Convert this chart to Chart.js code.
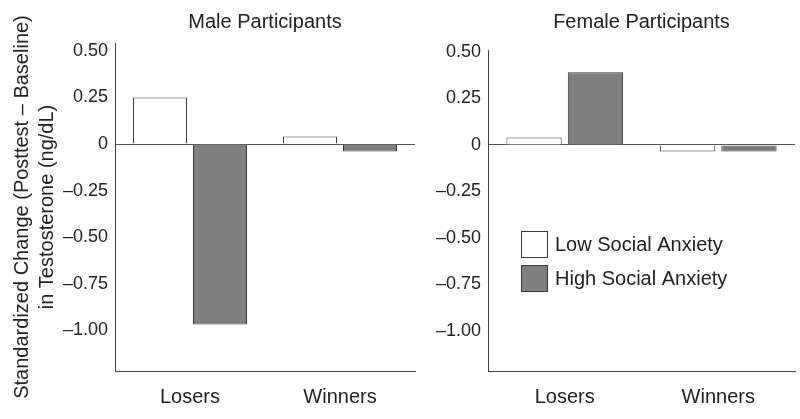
<!DOCTYPE html>
<html lang="en">
<head>
<meta charset="UTF-8">
<title>Testosterone change by social anxiety</title>
<style>
  html, body { margin: 0; padding: 0; background: #fff; }
  #wrap { position: relative; width: 800px; height: 419px; }
  .panel { position: absolute; top: 0; height: 419px; }
  #male { left: 0; width: 420px; }
  #female { left: 420px; width: 380px; }
</style>
</head>
<body>
<div id="wrap">
  <div class="panel" id="male"><canvas id="maleChart"></canvas></div>
  <div class="panel" id="female"><canvas id="femaleChart"></canvas></div>
</div>

<script src="https://cdn.jsdelivr.net/npm/chart.js"></script>

<script>
  // data
  const groups = ['Losers', 'Winners'];
  const seriesNames = ['Low Social Anxiety', 'High Social Anxiety'];
  const maleLow = [0.25, 0.04];
  const maleHigh = [-0.97, -0.04];
  const femaleLow = [0.04, -0.035];
  const femaleHigh = [0.39, -0.035];
  const tickValues = [0.5, 0.25, 0, -0.25, -0.5, -0.75, -1.0];
  const tickLabels = ['0.50', '0.25', '0', '\u20130.25', '\u20130.50', '\u20130.75', '\u20131.00'];

  const FONT = '"Liberation Sans", Arial, sans-serif';
  const TEXT = '#222';
  const LINE = '#444';

  // draws the boxed legend inside the plot
  const boxLegend = {
    id: 'boxLegend',
    afterDraw(chart, args, opts) {
      if (!opts.show) return;
      const ctx = chart.ctx;
      ctx.save();
      chart.data.datasets.forEach((ds, i) => {
        const y = opts.y + i * opts.step;
        ctx.fillStyle = ds.backgroundColor;
        ctx.fillRect(opts.x, y, opts.size, opts.size);
        ctx.strokeStyle = ds.borderColor;
        ctx.lineWidth = 1;
        ctx.strokeRect(opts.x + 0.5, y + 0.5, opts.size - 1, opts.size - 1);
        ctx.fillStyle = TEXT;
        ctx.font = '20px ' + FONT;
        ctx.textBaseline = 'middle';
        ctx.fillText(ds.label, opts.x + opts.size + 7, y + opts.size / 2 + 1);
      });
      ctx.restore();
    }
  };

  function buildChart(canvasId, title, low, high, yMin, yMax, yWidth, yTitle, titleBottom, legend) {
    return new Chart(document.getElementById(canvasId), {
      type: 'bar',
      data: {
        labels: groups,
        datasets: [
          { label: seriesNames[0], data: low, backgroundColor: '#ffffff', borderColor: '#3a3a3a', borderWidth: 1 },
          { label: seriesNames[1], data: high, backgroundColor: '#7f7f7f', borderColor: '#3a3a3a', borderWidth: 1 }
        ]
      },
      options: {
        responsive: true,
        maintainAspectRatio: false,
        animation: false,
        layout: { padding: { left: 0, right: 5, top: 0, bottom: 0 } },
        scales: {
          x: {
            afterFit: scale => { scale.height = 48; },
            grid: { display: false, drawTicks: false },
            border: { display: true, color: LINE, width: 1 },
            ticks: { color: TEXT, font: { family: FONT, size: 20 }, padding: 14 }
          },
          y: {
            min: yMin,
            max: yMax,
            afterBuildTicks: scale => { scale.ticks = tickValues.map(v => ({ value: v })); },
            afterFit: scale => { scale.width = yWidth; },
            grid: {
              drawTicks: false,
              color: c => (c.tick && c.tick.value === 0) ? '#555' : 'rgba(0,0,0,0)'
            },
            border: { display: true, color: LINE, width: 1 },
            ticks: {
              color: TEXT,
              font: { family: FONT, size: 18 },
              padding: 7,
              callback: v => tickLabels[tickValues.indexOf(v)]
            },
            title: {
              display: !!yTitle,
              text: yTitle || '',
              color: TEXT,
              font: { family: FONT, size: 20, lineHeight: 1.25 },
              padding: { top: 10, bottom: 0 }
            }
          }
        },
        plugins: {
          legend: { display: false },
          tooltip: { enabled: false },
          title: {
            display: true,
            text: title,
            fullSize: false,
            color: TEXT,
            font: { family: FONT, size: 20, weight: 'normal', lineHeight: 1.2 },
            padding: { top: 10, bottom: titleBottom }
          },
          boxLegend: legend
        }
      },
      plugins: [boxLegend]
    });
  }

  buildChart('maleChart', 'Male Participants', maleLow, maleHigh, -1.22, 0.543, 115,
    ['Standardized Change (Posttest \u2013 Baseline)', 'in Testosterone (ng/dL)'], 9, { show: false });

  buildChart('femaleChart', 'Female Participants', femaleLow, femaleHigh, -1.215, 0.51, 68,
    null, 16, { show: true, x: 101, y: 231, size: 27, step: 34 });
</script>
</body>
</html>
